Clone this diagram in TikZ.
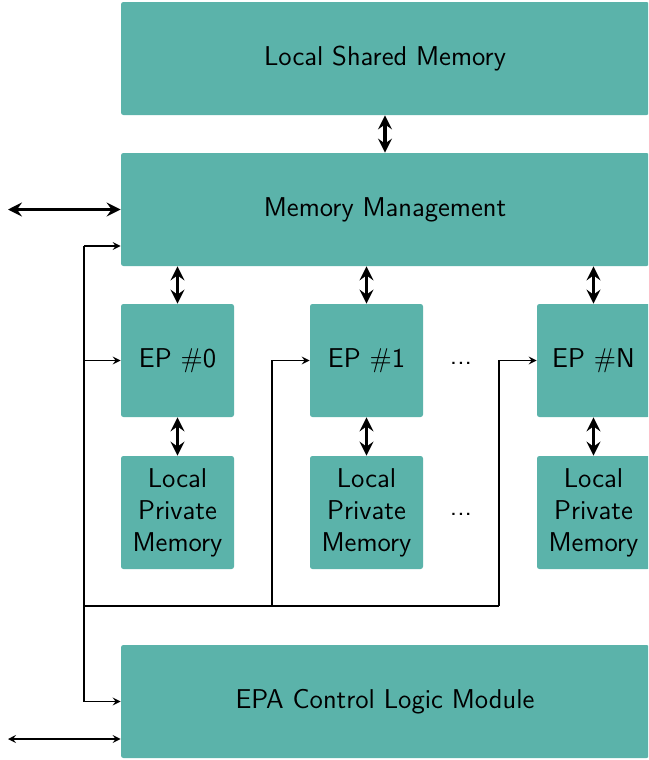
\documentclass[tikz,border=0pt]{standalone}
\usetikzlibrary{arrows.meta}
\definecolor{tealbox}{RGB}{91,179,170}
\begin{document}
\begin{tikzpicture}[x=0.5pt,y=-0.5pt,
  box/.style={fill=tealbox, rounded corners=1.2pt, inner sep=0pt, align=center,
    font=\sffamily\fontsize{13.6}{16}\selectfont, minimum height=56.5pt},
  bigbox/.style={box, minimum width=264pt},
  smallbox/.style={box, minimum width=56.5pt},
  bigarrow/.style={line width=1.8pt, {Stealth[length=7pt,width=7pt,inset=2.5pt]}-{Stealth[length=7pt,width=7pt,inset=2.5pt]}},
  thinline/.style={line width=0.6pt},
  thinarrow/.style={thinline, -{Stealth[length=4pt,width=4pt,inset=1.5pt]}},
  dotsstyle/.style={font=\sffamily\fontsize{13.6}{16}\selectfont, anchor=base, inner sep=0pt}]
\useasboundingbox (0,0) rectangle (648,760);
\clip (0,0) rectangle (648,760);
\node[bigbox] (lsm) at (385,58.5) {Local Shared Memory};
\node[bigbox] (mm) at (385,209.5) {Memory Management};
\node[smallbox] (ep0) at (177.5,360.5) {EP \#0};
\node[smallbox] (ep1) at (366.5,360.5) {EP \#1};
\node[smallbox] (epn) at (593.5,360.5) {EP \#N};
\node[smallbox] (lpm0) at (177.5,512.5) {Local\\Private\\Memory};
\node[smallbox] (lpm1) at (366.5,512.5) {Local\\Private\\Memory};
\node[smallbox] (lpmn) at (593.5,512.5) {Local\\Private\\Memory};
\node[bigbox] (epa) at (385,701.5) {EPA Control Logic Module};
\node[dotsstyle] (d1) at (461,364) {...};
\node[dotsstyle] (d2) at (461,515) {...};

\draw[bigarrow] (lsm.south) -- (mm.north);
\draw[bigarrow] (mm.south -| ep0.north) -- (ep0.north);
\draw[bigarrow] (mm.south -| ep1.north) -- (ep1.north);
\draw[bigarrow] (mm.south -| epn.north) -- (epn.north);
\draw[bigarrow] (ep0.south) -- (lpm0.north);
\draw[bigarrow] (ep1.south) -- (lpm1.north);
\draw[bigarrow] (epn.south) -- (lpmn.north);

\coordinate (ext1) at (8,209.5);
\draw[bigarrow] (ext1) -- (mm.west);

\coordinate (ext2) at (8,739);
\draw[thinline, {Stealth[length=4pt,width=4pt,inset=1.5pt]}-{Stealth[length=4pt,width=4pt,inset=1.5pt]}] (ext2) -- (ext2 -| epa.west);

\coordinate (vtop) at (84,246);
\coordinate (vbot) at (84,701.5);
\coordinate (bus0) at (84,606);
\coordinate (bus1) at (272,606);
\coordinate (bus2) at (499,606);
\draw[thinline] (vtop) -- (vbot);
\draw[thinarrow] (vtop) -- (vtop -| mm.west);
\draw[thinarrow] (vtop |- ep0.west) -- (ep0.west);
\draw[thinarrow] (vbot) -- (epa.west);
\draw[thinline] (bus0) -- (bus2);
\draw[thinarrow] (bus1) |- (ep1.west);
\draw[thinarrow] (bus2) |- (epn.west);
\end{tikzpicture}
\end{document}
